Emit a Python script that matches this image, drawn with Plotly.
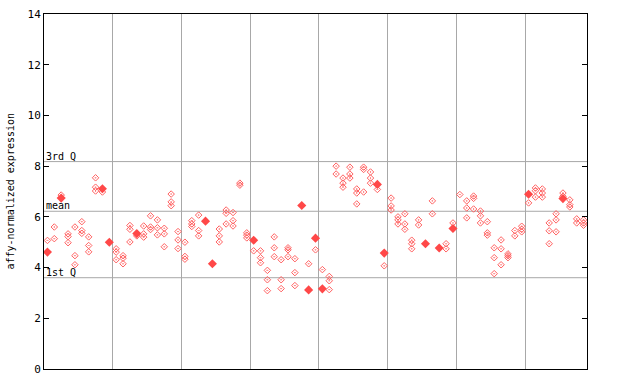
import plotly.graph_objects as go

# Sample slot index (0..78) and expression values
open_sample = [0, 1, 1, 2, 3, 3, 3, 4, 4, 4, 5, 5, 5, 6, 6, 6, 7, 7, 7, 8,
               10, 10, 10, 11, 11, 11, 12, 12, 12, 13, 14, 14, 14, 15, 15, 15,
               16, 16, 16, 17, 17, 17, 18, 18, 18, 19, 19, 19,
               20, 20, 20, 21, 21, 21, 22, 22, 22, 25, 25, 25, 26, 26, 26,
               27, 27, 27, 28, 28, 29, 29, 29,
               30, 31, 31, 31, 32, 32, 32, 33, 33, 33, 34, 34, 34, 35, 35, 35,
               36, 36, 36, 38, 39,
               40, 41, 41, 41, 42, 42, 43, 43, 43, 44, 44, 44, 45, 45, 45,
               46, 46, 46, 47, 47, 47, 48, 49,
               50, 50, 50, 51, 51, 51, 52, 52, 52, 53, 53, 53, 54, 54, 56, 56,
               58, 58, 59,
               60, 61, 61, 61, 62, 62, 62, 63, 63, 63, 64, 64, 64, 65, 65, 65,
               66, 66, 66, 67, 67, 67, 68, 68, 69, 69, 69,
               70, 71, 71, 71, 72, 72, 72, 73, 73, 73, 74, 74, 74, 75, 75,
               76, 76, 76, 77, 77, 78, 78, 78]
open_value = [5.07, 5.60, 5.14, 6.86, 5.33, 5.22, 4.98, 5.60, 4.47, 4.11,
              5.81, 5.46, 5.35, 5.21, 4.87, 4.62, 7.54, 7.17, 7.02, 6.98,
              4.74, 4.61, 4.31, 4.47, 4.37, 4.15, 5.66, 5.51, 5.01, 5.25,
              5.64, 5.33, 5.20, 6.04, 5.60, 5.50, 5.88, 5.57, 5.29,
              5.55, 5.33, 4.82, 6.90, 6.59, 6.44, 5.42, 5.09, 4.75,
              5.00, 4.44, 4.33, 5.85, 5.72, 5.62, 6.07, 5.46, 5.25,
              5.52, 5.25, 5.01, 6.27, 6.14, 5.72, 6.17, 5.85, 5.64,
              7.33, 7.25, 5.37, 5.28, 5.17,
              4.66, 4.66, 4.39, 4.19, 3.89, 3.52, 3.09, 5.21, 4.78, 4.43,
              4.31, 3.52, 3.17, 4.78, 4.70, 4.43, 4.35, 3.80, 3.29, 4.15, 4.70,
              3.92, 3.65, 3.48, 3.13, 8.00, 7.69, 7.53, 7.33, 7.17,
              7.96, 7.69, 7.53, 7.10, 6.94, 6.51, 7.96, 7.87, 6.98,
              7.77, 7.53, 7.33, 7.08, 4.07,
              6.74, 6.43, 6.27, 6.00, 5.88, 5.72, 6.12, 5.72, 5.51,
              5.08, 4.94, 4.74, 5.88, 5.68, 6.63, 6.12, 4.94, 4.74, 5.76,
              6.88, 6.63, 6.35, 5.96, 6.82, 6.73, 6.31, 6.23, 6.04, 5.76,
              5.81, 5.37, 5.28, 4.78, 4.39, 3.76, 5.09, 4.74, 4.11,
              4.54, 4.47, 4.39, 5.46, 5.25, 5.63, 5.51, 5.41,
              6.55, 7.14, 7.03, 6.78, 7.10, 6.94, 6.78, 5.76, 5.45, 4.94,
              6.12, 5.88, 5.41, 6.94, 6.81, 6.67, 6.48, 6.39, 5.92, 5.76,
              5.88, 5.76, 5.67]

solid_sample = [0, 2, 8, 9, 13, 23, 24, 30, 37, 38, 39, 40, 48, 49, 55, 57, 59, 70, 75]
solid_value = [4.61, 6.74, 7.11, 5.00, 5.34, 5.83, 4.15, 5.08, 6.45, 3.12, 5.16,
               3.16, 7.28, 4.57, 4.94, 4.77, 5.54, 6.89, 6.72]

group_bounds = [9.5, 19.5, 29.5, 39.5, 49.5, 59.5, 69.5]
y_ticks = [0, 2, 4, 6, 8, 10, 12, 14]
q_values = [8.18, 6.22, 3.60]
q_labels = ["3rd Q", "mean", "1st Q"]

FONT = "DejaVu Sans Mono"

fig = go.Figure()
fig.add_trace(go.Scatter(
    x=open_sample, y=open_value, mode="markers",
    marker=dict(symbol="diamond-open-dot", size=5, color="#ff6060",
                line=dict(width=1, color="#ff6060")),
    hoverinfo="skip", showlegend=False))
fig.add_trace(go.Scatter(
    x=solid_sample, y=solid_value, mode="markers",
    marker=dict(symbol="diamond", size=7, color="#ff4848", line=dict(width=0)),
    hoverinfo="skip", showlegend=False))

for qv, ql in zip(q_values, q_labels):
    fig.add_shape(type="line", xref="paper", x0=0, x1=1, yref="y", y0=qv, y1=qv,
                  line=dict(color="#a8a8a8", width=1), layer="below")
    fig.add_annotation(xref="paper", x=0.002, yref="y", y=qv, text=ql,
                       showarrow=False, xanchor="left", yanchor="bottom",
                       font=dict(family=FONT, size=10, color="black"),
                       borderpad=0, yshift=-1)

fig.add_annotation(xref="paper", x=-34 / 543, yref="paper", y=0.5,
                   text="affy-normalized expression", textangle=-90,
                   showarrow=False, xanchor="center", yanchor="middle",
                   font=dict(family=FONT, size=10, color="black"))

fig.update_layout(
    width=640, height=384,
    margin=dict(l=44, r=53, t=14, b=15, pad=0, autoexpand=False),
    paper_bgcolor="white", plot_bgcolor="white",
    hovermode=False, dragmode=False,
    xaxis=dict(range=[-0.5, 78.5], tickvals=group_bounds, showticklabels=False,
               ticks="", showgrid=True, gridcolor="#a8a8a8", gridwidth=1,
               zeroline=False, showline=True, linecolor="black", linewidth=1,
               mirror=True, automargin=False, fixedrange=True),
    yaxis=dict(range=[0, 14], tickvals=y_ticks, ticks="inside", ticklen=5,
               tickcolor="black", showgrid=False, zeroline=False,
               showline=True, linecolor="black", linewidth=1, mirror="ticks",
               automargin=False, fixedrange=True,
               tickfont=dict(family=FONT, size=11, color="black")),
)

fig.write_html("out.html",
               config={"displayModeBar": False, "staticPlot": True},
               post_script="document.body.style.margin='0';")
